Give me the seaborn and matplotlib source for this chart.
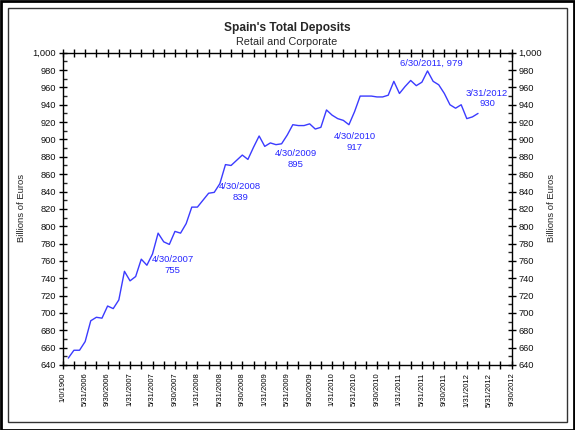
import numpy as np
import pandas as pd
import matplotlib
matplotlib.use("Agg")
import matplotlib.pyplot as plt
from matplotlib import font_manager
from matplotlib.patches import Rectangle
from matplotlib.ticker import MultipleLocator, FixedLocator, FuncFormatter
import seaborn as sns

# ---------------- data ----------------
start_month = "2006-02-28"
deposits = [648, 657, 657, 667, 691, 695, 694, 708, 705, 715, 748, 737,
            742, 762, 755, 768, 792, 782, 779, 794, 792, 803, 822, 822,
            830, 838, 839, 849, 871, 870, 876, 882, 877, 891, 904, 892,
            896, 894, 895, 905, 917, 916, 916, 918, 912, 914, 934, 928,
            924, 922, 917, 932, 950, 950, 950, 949, 949, 951, 967, 953,
            961, 968, 962, 966, 979, 967, 963, 953, 940, 936, 940, 924,
            926, 930]
x_tick_labels = ["1/0/1900", "5/31/2006", "9/30/2006", "1/31/2007", "5/31/2007",
                 "9/30/2007", "1/31/2008", "5/31/2008", "9/30/2008", "1/31/2009",
                 "5/31/2009", "9/30/2009", "1/31/2010", "5/31/2010", "9/30/2010",
                 "1/31/2011", "5/31/2011", "9/30/2011", "1/31/2012", "5/31/2012",
                 "9/30/2012"]
ann_dates = ["2007-04-30", "2008-04-30", "2009-04-30", "2010-04-30", "2011-06-30", "2012-03-31"]
ann_texts = ["4/30/2007\n755", "4/30/2008\n839", "4/30/2009\n895",
             "4/30/2010\n917", "6/30/2011, 979", "3/31/2012\n930"]
ann_values = [755, 839, 895, 917, 979, 930]

title = "Spain's Total Deposits"
subtitle = "Retail and Corporate"
y_label = "Billions of Euros"

# ---------------- build table ----------------
dates = pd.date_range(start_month, periods=len(deposits), freq="ME")
df = pd.DataFrame({"date": dates, "deposits": deposits})
df["month"] = (df["date"].dt.year - 2006) * 12 + df["date"].dt.month - 1

# ---------------- style ----------------
sns.set_style("white")
plt.rcParams["font.family"] = ["Liberation Sans", "DejaVu Sans"]
installed = {f.name for f in font_manager.fontManager.ttflist}
narrow = "Liberation Sans Narrow" if "Liberation Sans Narrow" in installed else "Liberation Sans"
xsize = 6.3 if narrow == "Liberation Sans Narrow" else 5.5

W, H = 575, 430
fig = plt.figure(figsize=(W / 100, H / 100), dpi=100)
fig.patch.set_facecolor("white")

L, R, T, B = 62.7, 511.7, 52.7, 365.0
ax = fig.add_axes([L / W, 1 - B / H, (R - L) / W, (B - T) / H])

line_color = "#3b3bff"
sns.lineplot(data=df, x="month", y="deposits", ax=ax, color=line_color,
             linewidth=1.0, legend=False)

ax.set_xlim(0, 80)
ax.set_ylim(640, 1000)
for s in ax.spines.values():
    s.set_visible(True)
    s.set_color("black")
    s.set_linewidth(1.0)

# y ticks
ax.yaxis.set_major_locator(MultipleLocator(20))
ax.yaxis.set_minor_locator(MultipleLocator(10))
ax.yaxis.set_major_formatter(FuncFormatter(lambda v, p: f"{int(v):,}"))
ax.tick_params(axis="y", which="major", direction="inout", length=6, width=1,
               left=True, right=True, labelleft=True, labelright=True,
               labelsize=6.7, pad=2, colors="black")
ax.tick_params(axis="y", which="minor", direction="in", length=3, width=1,
               left=True, right=True)

# x ticks
ax.xaxis.set_major_locator(FixedLocator(list(range(0, 81, 4))))
ax.xaxis.set_minor_locator(FixedLocator(list(range(2, 81, 4))))
ax.set_xticklabels(x_tick_labels, rotation=90, fontsize=xsize, family=narrow)
ax.tick_params(axis="x", which="both", direction="inout", length=6, width=1,
               bottom=True, top=True, pad=2.5, colors="black")
for lab in ax.get_yticklabels():
    lab.set_color("#111111")

ax.set_xlabel("")
ax.set_ylabel("")
ax.grid(False)

# annotations
ann_color = "#2626ff"
ann_offsets = [(26, 0), (26, 0), (14, -15), (6, -17), (4, 7.5), (9, 15)]
for d, txt, v, (dx, dy) in zip(ann_dates, ann_texts, ann_values, ann_offsets):
    dt = pd.Timestamp(d)
    m = (dt.year - 2006) * 12 + dt.month - 1
    ax.annotate(txt, xy=(m, v), xytext=(dx, dy), textcoords="offset pixels",
                ha="center", va="center", fontsize=6.8, color=ann_color,
                linespacing=1.25)

# titles and axis labels
fig.text(287 / W, 1 - 28 / H, title, ha="center", va="center",
         fontsize=8.6, fontweight="bold")
fig.text(287 / W, 1 - 42 / H, subtitle, ha="center", va="center", fontsize=7.8)
fig.text(21.7 / W, 1 - 207.7 / H, y_label, ha="center", va="center",
         rotation=90, fontsize=6.8)
fig.text(551.7 / W, 1 - 207.7 / H, y_label, ha="center", va="center",
         rotation=90, fontsize=6.8)

# frames
fig.patches.append(Rectangle((0.5 / W, 0.5 / H), 1 - 1.5 / W, 1 - 1.5 / H,
                             transform=fig.transFigure, fill=False,
                             edgecolor="black", linewidth=2.0))
fig.patches.append(Rectangle((8 / W, 8 / H), 1 - 16 / W, 1 - 16 / H,
                             transform=fig.transFigure, fill=False,
                             edgecolor="#333333", linewidth=1.0))

fig.savefig("out.png", dpi=100)
